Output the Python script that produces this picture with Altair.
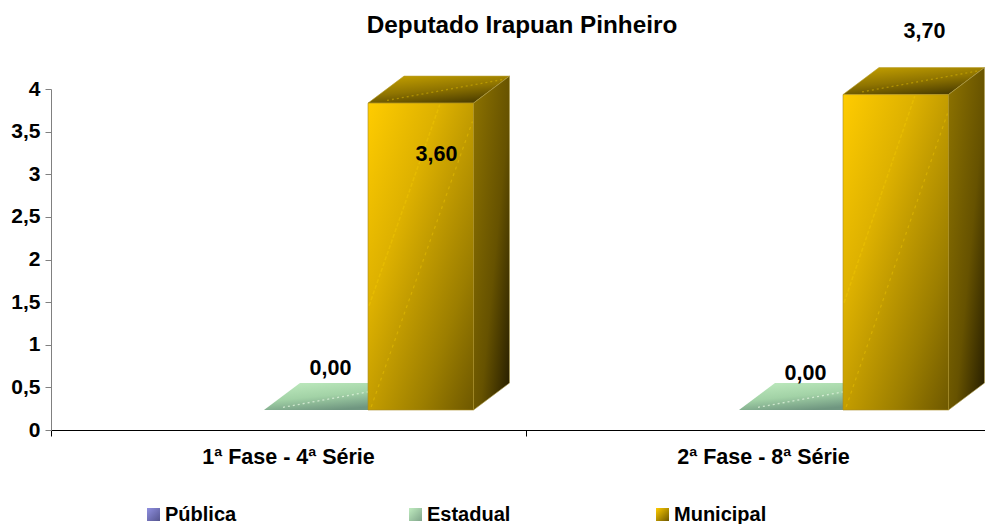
import altair as alt
import pandas as pd

# ---- data ----
categories = ["1ª Fase - 4ª Série", "2ª Fase - 8ª Série"]
series = ["Pública", "Estadual", "Municipal"]
estadual = [0.0, 0.0]
municipal = [3.6, 3.7]
y_ticks = [0, 0.5, 1, 1.5, 2, 2.5, 3, 3.5, 4]

# ---- layout (pixels converted to scale units) ----
FONT = "Liberation Sans"
PX_X = 475.0      # px per category
PX_Y = 85.25      # px per y unit
W, H = 934, 341
XMAX = W / PX_X
BAR = 105.5 / PX_X
DX = 36 / PX_X
DY = 27 / PX_Y
FLOOR = 20 / PX_Y
START = {"Estadual": 0.4484, "Municipal": 0.6674}

x_scale = alt.Scale(domain=[0, XMAX], nice=False, zero=False)
y_scale = alt.Scale(domain=[0, 4], nice=False, zero=False)

x_axis = alt.Axis(
    values=[0, 1], labels=False, grid=False, domainColor="#000000",
    tickColor="#000000", tickSize=6, domainWidth=1, tickWidth=1, title=None,
)
y_axis = alt.Axis(
    values=y_ticks, grid=False, domainColor="#808080", tickColor="#808080",
    tickSize=6, labelPadding=5, labelFont=FONT, labelFontSize=21,
    labelFontWeight="bold", labelColor="#000000", title=None,
    labelExpr="replace(toString(datum.value), '.', ',')",
)


def grad(stops, x1=0, y1=0, x2=1, y2=1):
    return alt.LinearGradient(
        gradient="linear", x1=x1, y1=y1, x2=x2, y2=y2,
        stops=[alt.GradientStop(offset=o, color=c) for o, c in stops],
    )


def X():
    return alt.X("x:Q", scale=x_scale, axis=x_axis, title=None)


def Y():
    return alt.Y("y:Q", scale=y_scale, axis=y_axis, title=None)


def Y2():
    return alt.Y2("y2:Q")


def area(rows, fill, stroke=None):
    kw = {"stroke": stroke, "strokeWidth": 0.6} if stroke else {}
    return alt.Chart(pd.DataFrame(rows)).mark_area(
        color=fill, interpolate="linear", **kw
    ).encode(x=X(), y=Y(), y2=Y2(), detail="k:N")


def top_rows(values, start):
    rows = []
    for i, v in enumerate(values):
        x0, x1, t = i + start, i + start + BAR, v + FLOOR
        rows += [
            {"k": i, "x": x0, "y": t, "y2": t},
            {"k": i, "x": x0 + DX, "y": t, "y2": t + DY},
            {"k": i, "x": x1, "y": t, "y2": t + DY},
            {"k": i, "x": x1 + DX, "y": t + DY, "y2": t + DY},
        ]
    return rows


def side_rows(values, start):
    rows = []
    for i, v in enumerate(values):
        x1, t = i + start + BAR, v + FLOOR
        rows += [
            {"k": i, "x": x1, "y": FLOOR, "y2": t},
            {"k": i, "x": x1 + DX, "y": FLOOR + DY, "y2": t + DY},
        ]
    return rows


def streak(values, start, fx0, fy0, fx1, fy1, color, opacity, dash, width=1.2):
    rows = []
    for i, v in enumerate(values):
        x0 = i + start
        t = v + FLOOR
        rows += [
            {"k": i, "x": x0 + fx0 * BAR, "y": FLOOR + fy0 * (t - FLOOR)},
            {"k": i, "x": x0 + fx1 * BAR, "y": FLOOR + fy1 * (t - FLOOR)},
        ]
    return alt.Chart(pd.DataFrame(rows)).mark_line(
        color=color, opacity=opacity, strokeDash=dash, strokeWidth=width
    ).encode(x=X(), y=Y(), detail="k:N")


def top_streak(values, start, color, opacity):
    rows = []
    for i, v in enumerate(values):
        x0 = i + start
        t = v + FLOOR
        rows += [
            {"k": i, "x": x0 + 0.18 * BAR, "y": t + 0.1 * DY},
            {"k": i, "x": x0 + BAR + 0.92 * DX, "y": t + 0.9 * DY},
        ]
    return alt.Chart(pd.DataFrame(rows)).mark_line(
        color=color, opacity=opacity, strokeDash=[2, 3], strokeWidth=1.3
    ).encode(x=X(), y=Y(), detail="k:N")


# invisible layer carrying the axes
axes = alt.Chart(pd.DataFrame({"x": [0], "y": [0]})).mark_point(opacity=0).encode(x=X(), y=Y())

layers = [axes]

# Estadual: only the floor face shows, since the values are zero
s = START["Estadual"]
layers.append(area(top_rows(estadual, s),
                   grad([(0, "#c0ecc0"), (0.55, "#a2d2a6"), (1, "#6f9680")], 0, 0, 0.5, 1)))
layers.append(top_streak(estadual, s, "#e4f6e0", 0.75))

# Municipal
s = START["Municipal"]
layers.append(area(top_rows(municipal, s),
                   grad([(0, "#c4a000"), (0.55, "#8f7400"), (1, "#4f4000")], 0.1, 0, 0.6, 1),
                   "#b8a030"))
layers.append(top_streak(municipal, s, "#d8b400", 0.55))
layers.append(area(side_rows(municipal, s),
                   grad([(0, "#8a7000"), (0.55, "#665200"), (1, "#241c00")], 0, 0.1, 1, 1),
                   "#b0a050"))
front = pd.DataFrame({
    "x": [i + s for i in range(2)],
    "x2": [i + s + BAR for i in range(2)],
    "y": [v + FLOOR for v in municipal],
    "y2": [FLOOR, FLOOR],
})
layers.append(alt.Chart(front).mark_rect(
    color=grad([(0, "#ffcc00"), (0.35, "#dcb000"), (0.75, "#9c7e00"), (1, "#6e5800")], 0, 0, 1, 1),
    stroke="#a88c20", strokeWidth=0.6,
).encode(x=X(), x2="x2:Q", y=Y(), y2="y2:Q"))
layers.append(streak(municipal, s, 0.03, 0.01, 0.99, 0.94, "#e8c000", 0.55, [3, 4]))
layers.append(streak(municipal, s, 0.01, 0.34, 0.68, 0.995, "#ffd800", 0.28, [4, 2], 1.5))


# value labels: pixel nudges relative to each bar
def fmt(v):
    return f"{v:.2f}".replace(".", ",")


label_rows = []
nudges = {"Estadual": [(-39, -41), (-39, -36), ], "Municipal": [(-37, 52), (-24, -62.6)]}
for name, vals in (("Estadual", estadual), ("Municipal", municipal)):
    for i, v in enumerate(vals):
        nx, ny = nudges[name][i]
        label_rows.append({
            "x": i + START[name] + BAR + nx / PX_X,
            "y": v + FLOOR - ny / PX_Y,
            "t": fmt(v),
        })
layers.append(alt.Chart(pd.DataFrame(label_rows)).mark_text(
    font=FONT, fontSize=21.5, fontWeight="bold", color="#000000", align="center", baseline="middle"
).encode(x=X(), y=Y(), text="t:N"))

# category labels
layers.append(alt.Chart(pd.DataFrame({
    "x": [i + 0.5 for i in range(len(categories))],
    "t": categories,
})).mark_text(
    font=FONT, fontSize=21.5, fontWeight="bold", color="#000000", align="center", baseline="middle"
).encode(x=X(), y=alt.value(H + 28), text="t:N"))

# hand-placed legend with the original's uneven spacing
legend_x = {"Pública": 153.5, "Estadual": 415.5, "Municipal": 662.5}
legend_fill = {
    "Pública": grad([(0, "#9090e0"), (1, "#55558f")], 0, 0, 1, 1),
    "Estadual": grad([(0, "#c0ecc0"), (1, "#7fa58a")], 0, 0, 1, 1),
    "Municipal": grad([(0, "#ffcc00"), (1, "#6e5800")], 0, 0, 1, 1),
}
for name in series:
    px = legend_x[name]
    row = pd.DataFrame({
        "x": [(px - 6.5 - 51) / PX_X],
        "x2": [(px + 6.5 - 51) / PX_X],
    })
    layers.append(alt.Chart(row).mark_rect(color=legend_fill[name]).encode(
        x=X(), x2="x2:Q", y=alt.value(H + 78), y2=alt.value(H + 91)))
    row2 = pd.DataFrame({"x": [(px + 11.5 - 51) / PX_X], "t": [name]})
    layers.append(alt.Chart(row2).mark_text(
        font=FONT, fontSize=20, fontWeight="bold", color="#000000", align="left", baseline="middle"
    ).encode(x=X(), y=alt.value(H + 84.5), text="t:N"))

chart = alt.layer(*layers).properties(
    width=W, height=H,
    padding={"left": 43, "top": 81, "right": 0, "bottom": 94},
    autosize=alt.AutoSizeParams(type="none"),
    title=alt.TitleParams(
        "Deputado Irapuan Pinheiro", font=FONT, fontSize=24.3, fontWeight="bold",
        color="#000000", anchor="middle", offset=-17.5, dx=4,
    ),
).configure_view(stroke=None)

chart.save("out.html", embed_options={"renderer": "svg", "actions": False})
